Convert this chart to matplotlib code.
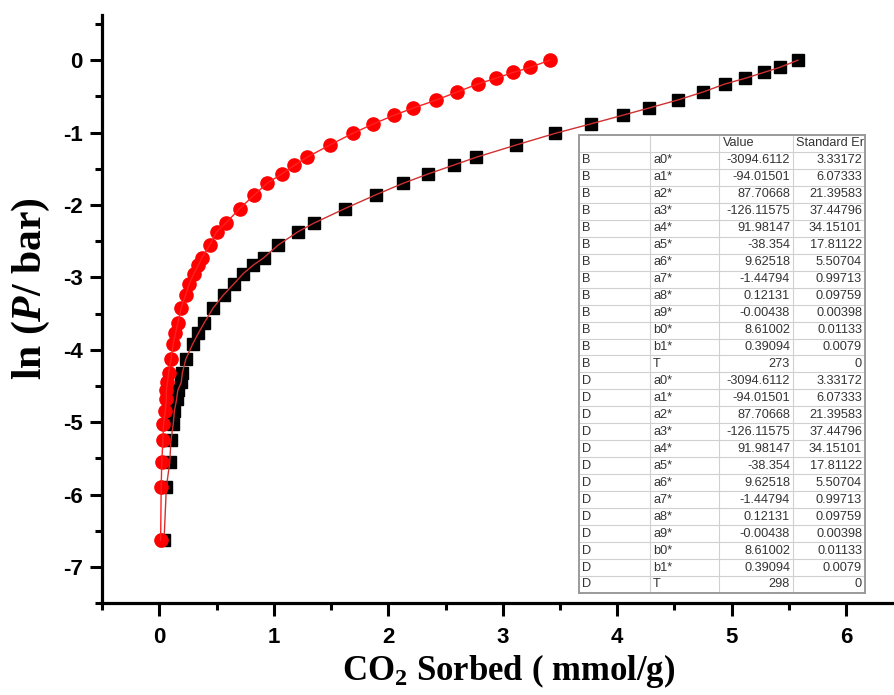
import matplotlib
matplotlib.use('Agg')
import matplotlib.pyplot as plt
from matplotlib.ticker import MultipleLocator

# ---- data ----
lnP = [-6.63, -5.90, -5.55, -5.25, -5.03, -4.85, -4.68, -4.56, -4.45, -4.32,
       -4.13, -3.92, -3.77, -3.63, -3.42, -3.24, -3.09, -2.95, -2.83, -2.73,
       -2.55, -2.37, -2.25, -2.05, -1.86, -1.70, -1.57, -1.45, -1.34, -1.17,
       -1.01, -0.88, -0.76, -0.66, -0.55, -0.44, -0.33, -0.25, -0.17, -0.10, 0.0]

# black squares (273 K)
sorbed_B = [0.04, 0.06, 0.09, 0.10, 0.12, 0.13, 0.15, 0.16, 0.19, 0.20,
            0.23, 0.29, 0.34, 0.39, 0.47, 0.56, 0.65, 0.73, 0.82, 0.91,
            1.04, 1.21, 1.35, 1.62, 1.89, 2.13, 2.35, 2.57, 2.77, 3.12,
            3.46, 3.77, 4.05, 4.28, 4.53, 4.75, 4.94, 5.12, 5.28, 5.42, 5.58]

# red circles (298 K)
sorbed_D = [0.01, 0.015, 0.02, 0.03, 0.035, 0.05, 0.06, 0.06, 0.07, 0.08,
            0.10, 0.12, 0.14, 0.16, 0.19, 0.23, 0.26, 0.30, 0.34, 0.37,
            0.44, 0.50, 0.58, 0.70, 0.83, 0.94, 1.07, 1.18, 1.29, 1.49,
            1.69, 1.87, 2.05, 2.22, 2.42, 2.60, 2.78, 2.94, 3.09, 3.24, 3.41]

# ---- fit parameter table ----
param_names = ["a0*", "a1*", "a2*", "a3*", "a4*", "a5*", "a6*", "a7*",
               "a8*", "a9*", "b0*", "b1*", "T"]
values_B = ["-3094.6112", "-94.01501", "87.70668", "-126.11575", "91.98147",
            "-38.354", "9.62518", "-1.44794", "0.12131", "-0.00438",
            "8.61002", "0.39094", "273"]
errors_B = ["3.33172", "6.07333", "21.39583", "37.44796", "34.15101",
            "17.81122", "5.50704", "0.99713", "0.09759", "0.00398",
            "0.01133", "0.0079", "0"]
values_D = values_B[:-1] + ["298"]
errors_D = errors_B[:]

plt.rcParams['mathtext.fontset'] = 'custom'
plt.rcParams['mathtext.rm'] = 'Liberation Serif:bold'
plt.rcParams['mathtext.it'] = 'Liberation Serif:bold:italic'
plt.rcParams['mathtext.bf'] = 'Liberation Serif:bold'
plt.rcParams['axes.unicode_minus'] = False

fig = plt.figure(figsize=(8.94, 6.95), dpi=100)
ax = fig.add_axes([0.1144, 0.132, 0.8856, 0.846])

ax.plot(sorbed_B, lnP, ls='none', marker='s', ms=9, color='black', zorder=2)
ax.plot(sorbed_B, lnP, color='#d03030', lw=1, zorder=3)
ax.plot(sorbed_D, lnP, ls='none', marker='o', ms=9.5, color='#ff0000', zorder=4)
ax.plot(sorbed_D, lnP, color='#ff2020', lw=1, zorder=5)

ax.set_xlim(-0.5, 6.42)
ax.set_ylim(-7.5, 0.62)
ax.xaxis.set_major_locator(MultipleLocator(1))
ax.xaxis.set_minor_locator(MultipleLocator(0.5))
ax.yaxis.set_major_locator(MultipleLocator(1))
ax.yaxis.set_minor_locator(MultipleLocator(0.5))

for side in ['top', 'right']:
    ax.spines[side].set_visible(False)
for side in ['left', 'bottom']:
    ax.spines[side].set_linewidth(2.3)

ax.tick_params(which='major', direction='out', length=9, width=2.2, pad=5)
ax.tick_params(which='minor', direction='out', length=5, width=2.2)
ax.tick_params(axis='x', which='major', pad=8)
for lab in ax.get_xticklabels() + ax.get_yticklabels():
    lab.set_fontfamily('Liberation Sans')
    lab.set_fontweight('bold')
    lab.set_fontsize(16)

ax.set_xlabel(r'CO$_2$ Sorbed ( mmol/g)', fontfamily='Liberation Serif',
              fontweight='bold', fontsize=25)
ax.xaxis.set_label_coords(0.513, -0.083)
ax.set_ylabel(r'ln ($P$/ bar)', fontfamily='Liberation Serif',
              fontweight='bold', fontsize=30)
ax.yaxis.set_label_coords(-0.064, 0.535)

# ---- table drawn in its own axes ----
tax = fig.add_axes([0.6477, 0.1468, 0.32, 0.659])
n_rows = 1 + 2 * len(param_names)
col_edges = [0, 71, 140, 214, 286]
tax.set_xlim(0, 286)
tax.set_ylim(n_rows, 0)
tax.set_xticks([])
tax.set_yticks([])
tax.set_facecolor('white')
for sp in tax.spines.values():
    sp.set_color('#9a9a9a')
    sp.set_linewidth(1.4)
for r in range(1, n_rows):
    tax.axhline(r, color='#d0d0d0', lw=0.8)
for c in col_edges[1:-1]:
    tax.axvline(c, color='#d0d0d0', lw=0.8)

tfont = dict(fontfamily='Liberation Sans', fontsize=9.2, color='#333333',
             va='center')
tax.text(col_edges[2] + 4, 0.5, 'Value', ha='left', **tfont)
tax.text(col_edges[3] + 3, 0.5, 'Standard Er', ha='left', **tfont)
rows = ([("B", p, v, e) for p, v, e in zip(param_names, values_B, errors_B)] +
        [("D", p, v, e) for p, v, e in zip(param_names, values_D, errors_D)])
for i, (grp, p, v, e) in enumerate(rows):
    y = i + 1.5
    tax.text(col_edges[0] + 3, y, grp, ha='left', **tfont)
    tax.text(col_edges[1] + 3, y, p, ha='left', **tfont)
    tax.text(col_edges[3] - 3, y, v, ha='right', **tfont)
    tax.text(col_edges[4] - 3, y, e, ha='right', **tfont)

fig.savefig('out.png', dpi=100)
